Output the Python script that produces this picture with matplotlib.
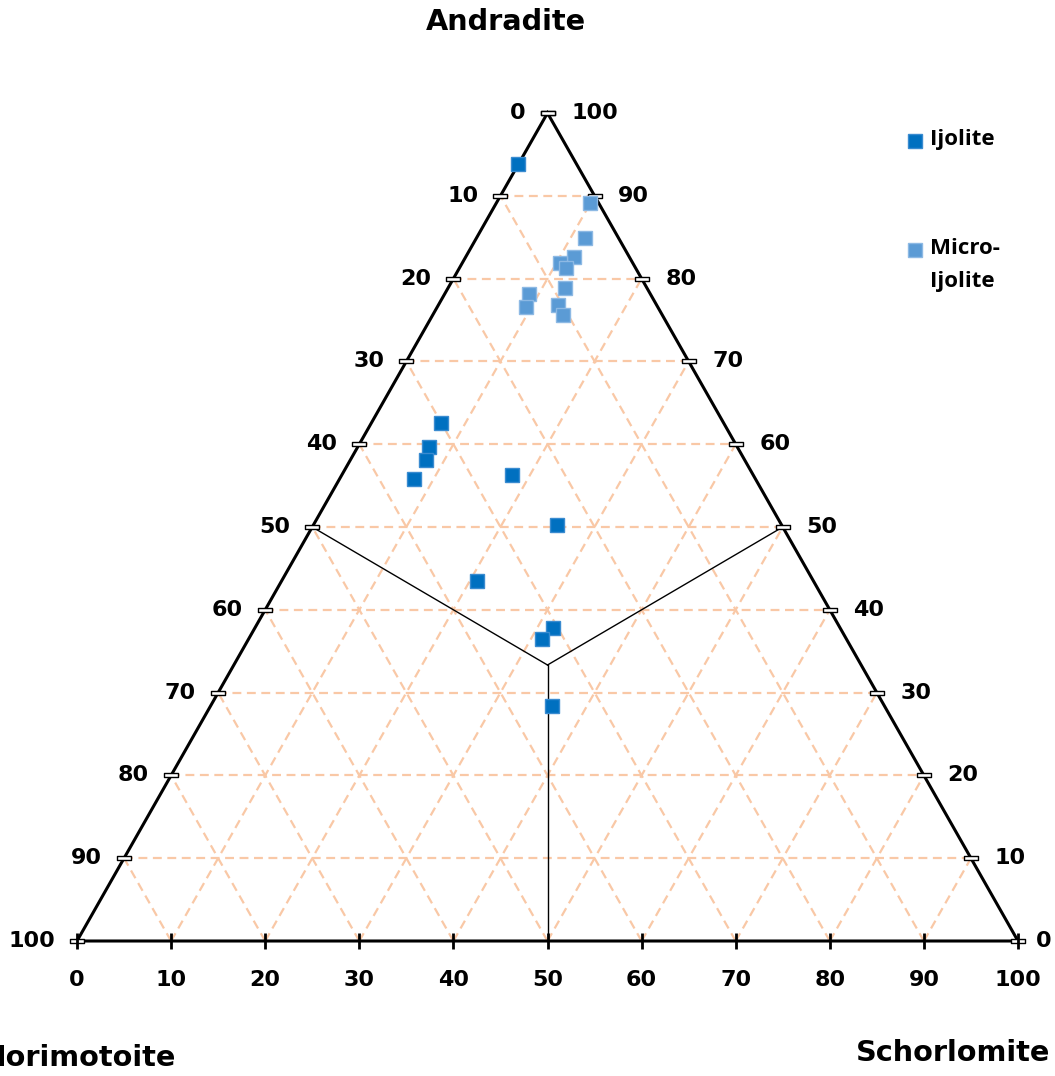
import numpy as np
import matplotlib
matplotlib.use("Agg")
import matplotlib.pyplot as plt
from matplotlib.path import Path

# ---- data (percent): Andradite, Schorlomite; Morimotoite = 100 - A - S ----
ijolite_andradite   = [93.8, 62.6, 59.7, 58.1, 55.8, 56.3, 50.2, 43.5, 37.8, 36.5, 28.4]
ijolite_schorlomite = [0.0,  7.4,  7.6,  8.0,  7.9,  18.1, 25.9, 20.8, 31.7, 31.2, 36.3]
micro_andradite     = [89.1, 84.9, 82.6, 81.9, 81.3, 78.9, 78.1, 76.6, 76.8, 75.6]
micro_schorlomite   = [10.0, 11.5, 11.5, 10.4, 11.3, 12.4, 9.0,  9.4,  12.7, 13.8]

tick_values = [0, 10, 20, 30, 40, 50, 60, 70, 80, 90, 100]
grid_values = [10, 20, 30, 40, 50, 60, 70, 80, 90]
axis_titles = ["Andradite", "Morimotoite", "Schorlomite"]
series_names = ["Ijolite", "Micro-\nIjolite"]
colors = ["#0070C0", "#5B9BD5"]
edge_colors = ["#3A8BD0", "#8DB9E4"]


def to_xy(a, s):
    a = np.asarray(a, float)
    s = np.asarray(s, float)
    return s + a / 2.0, a


W, H = 1055, 1076
fig = plt.figure(figsize=(W / 100, H / 100), dpi=100)
ax = fig.add_axes([77 / W, (H - 941) / H, 941 / W, 828 / H])
ax.set_xlim(0, 100)
ax.set_ylim(0, 100)
ax.axis("off")

grid_kw = dict(color="#F9C8A6", lw=1.6, ls=(0, (4, 2.5)), zorder=1, clip_on=False)
for k in grid_values:
    ax.plot([k / 2, 100 - k / 2], [k, k], **grid_kw)
    ax.plot([k, k + (100 - k) / 2], [0, 100 - k], **grid_kw)
    ax.plot([100 - k, (100 - k) / 2], [0, 100 - k], **grid_kw)

# field boundaries from centroid to edge midpoints
c = (50.0, 100.0 / 3.0)
for (px, py) in [(25, 50), (75, 50), (50, 0)]:
    ax.plot([c[0], px], [c[1], py], color="black", lw=1.0, zorder=2, clip_on=False)

# triangle
ax.plot([0, 100, 50, 0], [0, 0, 100, 0], color="black", lw=2.2, zorder=3,
        solid_joinstyle="miter", clip_on=False)

# ticks
rect = Path([(-1, -0.3), (1, -0.3), (1, 0.3), (-1, 0.3), (-1, -0.3)],
            [Path.MOVETO, Path.LINETO, Path.LINETO, Path.LINETO, Path.CLOSEPOLY])
tv = np.array(tick_values, float)
lx, ly = (100 - tv) / 2, 100 - tv
rx, ry = 100 - tv / 2, tv
ax.plot(lx, ly, ls="none", marker=rect, ms=10, mfc="white", mec="black", mew=1, zorder=4, clip_on=False)
ax.plot(rx, ry, ls="none", marker=rect, ms=10, mfc="white", mec="black", mew=1, zorder=4, clip_on=False)
ax.plot(tv, np.zeros_like(tv), ls="none", marker="|", ms=11.5, mec="black", mew=2, zorder=4, clip_on=False)

lab_kw = dict(fontsize=16, fontweight="bold", family="DejaVu Sans", color="black")
for v, x, y in zip(tick_values, lx, ly):
    ax.annotate(str(v), (x, y), xytext=(-16, 0), textcoords="offset points",
                ha="right", va="center", **lab_kw)
for v, x, y in zip(tick_values, rx, ry):
    off = 13 if v == 0 else 17
    ax.annotate(str(v), (x, y), xytext=(off, 0), textcoords="offset points",
                ha="left", va="center", **lab_kw)
for v in tick_values:
    ax.annotate(str(v), (v, 0), xytext=(0, -28), textcoords="offset points",
                ha="center", va="center", **lab_kw)

# data
for a, s, col, ec, name in [(ijolite_andradite, ijolite_schorlomite, colors[0], edge_colors[0], series_names[0]),
                            (micro_andradite, micro_schorlomite, colors[1], edge_colors[1], series_names[1])]:
    x, y = to_xy(a, s)
    ax.plot(x, y, ls="none", marker="s", ms=10.5, mfc=col, mec=ec, mew=1, zorder=5,
            clip_on=False, label=name)

# axis titles
title_kw = dict(fontsize=20.7, fontweight="bold", family="DejaVu Sans", color="black")
fig.text(506 / W, 1 - 22 / H, axis_titles[0], ha="center", va="center", **title_kw)
fig.text(176 / W, 1 - 1058 / H, axis_titles[1], ha="right", va="center", **title_kw)
fig.text(1050 / W, 1 - 1053 / H, axis_titles[2], ha="right", va="center", **title_kw)

# legend (manual)
leg_y = [141, 250]
for yy, col, ec, name in zip(leg_y, colors, edge_colors, series_names):
    fig.lines.append(plt.Line2D([915 / W], [1 - yy / H], transform=fig.transFigure,
                                ls="none", marker="s", ms=9.5, mfc=col, mec=ec, mew=1))
    fig.text(930 / W, 1 - (yy - 12) / H, name, ha="left", va="top", fontsize=16,
             fontweight="bold", family="Open Sans", linespacing=1.75)

fig.savefig("out.png", dpi=100)
